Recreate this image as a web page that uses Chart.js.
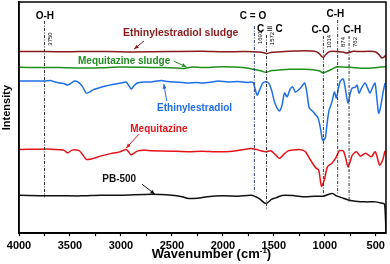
<!DOCTYPE html>
<html>
<head>
<meta charset="utf-8">
<script src="https://cdn.jsdelivr.net/npm/chart.js@4.4.1/dist/chart.umd.min.js"></script>
<style>
html, body { margin: 0; padding: 0; background: #fff; }
#wrap { width: 390px; height: 264px; }
</style>
</head>
<body>
<div id="wrap"><canvas id="ftir"></canvas></div>
<script>
// FTIR spectra, wavenumber (cm-1) and intensity (arbitrary, offset per trace)
const eeSludgeWn = [4000, 3750, 3500, 3300, 3000, 2900, 2500, 2200, 2000, 1800, 1700, 1620, 1572, 1520, 1400, 1300, 1200, 1100, 1060, 1030, 1014, 990, 960, 920, 880, 820, 790, 760, 720, 650, 560, 500, 470, 440, 420, 400];
const eeSludgeI = [181.5, 181.5, 181.3, 181.6, 181.3, 181.0, 181.5, 181.8, 181.3, 181.5, 181.4, 180.8, 179.5, 180.8, 181.5, 182, 182.3, 181.8, 180, 176.5, 175.7, 178.5, 181.2, 181.8, 181.5, 181, 180, 180.5, 181.8, 181.5, 181.8, 181, 178.5, 175, 176, 178];

const mqSludgeWn = [4000, 3800, 3600, 3400, 3200, 3000, 2800, 2600, 2450, 2380, 2300, 2200, 2000, 1800, 1700, 1620, 1580, 1520, 1450, 1350, 1200, 1100, 1050, 1020, 980, 930, 880, 820, 760, 700, 600, 520, 450, 400];
const mqSludgeI = [165.7, 165.5, 165.5, 165, 165.3, 166, 165.8, 165.5, 165, 164.5, 166, 165.5, 166.3, 165.5, 163.7, 162, 160.7, 162.5, 163, 163.7, 163.7, 163, 162, 160.3, 161.5, 164, 166.3, 166, 165.7, 165.3, 164.7, 165.3, 166, 166.3];

const eeWn = [4000, 3900, 3750, 3690, 3660, 3600, 3560, 3520, 3480, 3455, 3420, 3380, 3340, 3300, 3280, 3220, 3150, 3080, 3000, 2950, 2920, 2900, 2870, 2840, 2780, 2720, 2650, 2600, 2540, 2480, 2400, 2340, 2260, 2200, 2120, 2045, 1950, 1850, 1760, 1720, 1700, 1665, 1640, 1610, 1580, 1550, 1520, 1490, 1445, 1420, 1396, 1370, 1340, 1315, 1290, 1260, 1230, 1198, 1175, 1153, 1120, 1090, 1070, 1055, 1040, 1023, 1010, 994, 975, 958, 940, 926, 915, 905, 887, 870, 848, 819, 800, 773, 750, 731, 700, 683, 665, 640, 605, 580, 557, 530, 508, 490, 472, 455, 430, 410];
const eeI = [152, 152, 152, 152.5, 151.5, 150, 149.5, 148, 150.5, 152, 151, 147, 140, 141.5, 143, 145, 147, 148.5, 150, 151, 147, 144, 147.5, 150, 151, 151, 152, 152.5, 151.5, 151, 150.5, 150, 150.5, 150, 150.8, 152, 151, 151.5, 150.5, 151, 150, 138, 143, 150, 151.3, 150, 142, 130, 122, 128, 140, 136.3, 144, 146.3, 141, 143, 146, 150, 140, 125, 122, 118, 116, 111, 103, 93, 93, 96, 112, 123, 128, 133, 138, 141, 135, 143, 152, 154, 145, 130, 140, 145, 146, 148, 140, 145, 150, 145, 140, 146, 150, 135, 120, 125, 140, 150];

const mqWn = [4000, 3800, 3680, 3600, 3560, 3523, 3480, 3410, 3380, 3340, 3300, 3260, 3200, 3163, 3100, 3020, 2980, 2950, 2930, 2900, 2870, 2840, 2780, 2700, 2500, 2337, 2200, 2050, 1900, 1725, 1650, 1578, 1530, 1480, 1445, 1400, 1360, 1320, 1250, 1220, 1190, 1140, 1090, 1060, 1033, 1005, 975, 933, 895, 858, 820, 795, 773, 750, 731, 690, 650, 600, 545, 505, 462, 430, 410];
const mqI = [83.7, 84, 84, 83.5, 83, 80.3, 83, 82.5, 79, 73.7, 74, 75, 77, 78, 79.5, 81, 82.5, 83.7, 82, 78.3, 80, 82, 83, 82.5, 82, 81.5, 82, 81.3, 82, 84.7, 83, 81.3, 82.3, 78, 74.7, 79, 82.3, 83, 83.7, 83, 81.3, 73, 65.3, 63, 47, 53, 66.3, 69.7, 74.7, 82.3, 82.3, 75, 66.3, 72, 78, 81.3, 77, 80, 76.3, 81.3, 68, 74, 82.3];

const pbWn = [4000, 3800, 3600, 3400, 3200, 3000, 2700, 2500, 2400, 2337, 2250, 2150, 2000, 1850, 1720, 1650, 1578, 1520, 1480, 1420, 1300, 1200, 1100, 1020, 926, 880, 820, 760, 700, 600, 500, 440, 415, 405, 400];
const pbI = [38, 37.5, 37.5, 37.3, 38, 38, 39, 38, 36.5, 34.7, 35, 36.5, 37.3, 37, 38, 35, 29.7, 34, 35.3, 37.7, 37.5, 36.5, 37, 37, 39.7, 37, 35, 33, 32, 31.3, 31.3, 30, 29, 15, 0];

// marked bands: position, dotted line top / bottom
const peakPos = [3750, 1691, 1572, 1014, 874, 762];
const peakTop = [212, 207, 198, 197, 213, 197];
const peakBottom = [36, 41, 23, 40, 38, 31];
const bondNames = ['O-H', 'C = O', 'C \u2261 C', 'C-O', 'C-H', 'C-H'];

const xTicks = [4000, 3750, 3500, 3250, 3000, 2750, 2500, 2250, 2000, 1750, 1500, 1250, 1000, 750, 500];

const seriesNames = ['Ethinylestradiol sludge', 'Mequitazine sludge', 'Ethinylestradiol', 'Mequitazine', 'PB-500'];
const seriesColors = ['#8b1a1a', '#1f8f1f', '#1e6fe6', '#e5141b', '#111111'];

const FONT = '"Liberation Sans", Arial, sans-serif';

function pts(wn, vals) {
    return wn.map((w, i) => ({x: w, y: vals[i]}));
}

const spectra = [
    pts(eeSludgeWn, eeSludgeI),
    pts(mqSludgeWn, mqSludgeI),
    pts(eeWn, eeI),
    pts(mqWn, mqI),
    pts(pbWn, pbI)
];

const datasets = [];
// dotted marker lines
peakPos.forEach((p, i) => {
    datasets.push({
        data: [{x: p, y: peakTop[i]}, {x: p, y: peakBottom[i]}],
        borderColor: i === 1 ? '#2b3a80' : '#333',
        borderWidth: 1,
        borderDash: [3, 1.5, 1, 1.5],
        pointRadius: 0,
        tension: 0
    });
});
spectra.forEach((d, i) => {
    datasets.push({
        label: seriesNames[i],
        data: d,
        borderColor: seriesColors[i],
        borderWidth: 1.5,
        pointRadius: 0,
        tension: 0.25
    });
});

// where the text sits, in data units (wavenumber, intensity)
const bondAt = [[3747, 217], [1704, 217], [1539, 204], [1042, 203], [897, 219], [731, 203]];
const numAt = [194, 195.5, 194.5, 191.5, 191, 191];
const nameAt = [[2414, 200], [2969, 172], [2278, 125], [2628, 104], [3017, 54]];
const arrows = [
    [2774, 192, 2871, 184],
    [2482, 172, 2356, 166],
    [2550, 132, 2580, 149],
    [2823, 99, 2949, 85],
    [2794, 49, 2667, 39]
];

const notes = {
    id: 'notes',
    afterDatasetsDraw(chart) {
        const {ctx, chartArea: a, scales: {x, y}} = chart;
        ctx.save();
        ctx.strokeStyle = '#000';
        ctx.lineWidth = 1.5;
        ctx.strokeRect(a.left, a.top, a.width, a.height);

        ctx.textAlign = 'center';
        ctx.textBaseline = 'middle';
        ctx.fillStyle = '#000';
        ctx.font = 'bold 10px ' + FONT;
        bondNames.forEach((t, i) => {
            ctx.fillText(t, x.getPixelForValue(bondAt[i][0]), y.getPixelForValue(bondAt[i][1]));
        });

        ctx.font = '6px ' + FONT;
        peakPos.forEach((p, i) => {
            ctx.save();
            ctx.translate(x.getPixelForValue(p) + 6, y.getPixelForValue(numAt[i]));
            ctx.rotate(-Math.PI / 2);
            ctx.fillText(String(p), 0, 0);
            ctx.restore();
        });

        seriesNames.forEach((t, i) => {
            ctx.fillStyle = seriesColors[i];
            ctx.strokeStyle = seriesColors[i];
            ctx.font = 'bold ' + (i === 0 ? 10.5 : 10) + 'px ' + FONT;
            ctx.fillText(t, x.getPixelForValue(nameAt[i][0]), y.getPixelForValue(nameAt[i][1]));
            const [w1, v1, w2, v2] = arrows[i];
            const x1 = x.getPixelForValue(w1), y1 = y.getPixelForValue(v1);
            const x2 = x.getPixelForValue(w2), y2 = y.getPixelForValue(v2);
            ctx.lineWidth = 1;
            ctx.beginPath();
            ctx.moveTo(x1, y1);
            ctx.lineTo(x2, y2);
            ctx.stroke();
            const ang = Math.atan2(y2 - y1, x2 - x1);
            ctx.beginPath();
            ctx.moveTo(x2, y2);
            ctx.lineTo(x2 - 5 * Math.cos(ang - 0.4), y2 - 5 * Math.sin(ang - 0.4));
            ctx.lineTo(x2 - 5 * Math.cos(ang + 0.4), y2 - 5 * Math.sin(ang + 0.4));
            ctx.closePath();
            ctx.fill();
        });

        // axis titles (x one carries a real superscript)
        ctx.fillStyle = '#000';
        ctx.textBaseline = 'alphabetic';
        ctx.textAlign = 'left';
        const main = 'Wavenumber (cm', sup = '-1', tail = ')';
        ctx.font = 'bold 13px ' + FONT;
        const wMain = ctx.measureText(main).width, wTail = ctx.measureText(tail).width;
        ctx.font = 'bold 8px ' + FONT;
        const wSup = ctx.measureText(sup).width;
        let tx = (a.left + a.right) / 2 + 9 - (wMain + wSup + wTail) / 2;
        const ty = a.bottom + 25;
        ctx.font = 'bold 13px ' + FONT;
        ctx.fillText(main, tx, ty);
        tx += wMain;
        ctx.font = 'bold 8px ' + FONT;
        ctx.fillText(sup, tx, ty - 5);
        tx += wSup;
        ctx.font = 'bold 13px ' + FONT;
        ctx.fillText(tail, tx, ty);

        ctx.save();
        ctx.translate(a.left - 12, (a.top + a.bottom) / 2 - 10);
        ctx.rotate(-Math.PI / 2);
        ctx.textAlign = 'center';
        ctx.textBaseline = 'middle';
        ctx.font = 'bold 11px ' + FONT;
        ctx.fillText('Intensity', 0, 0);
        ctx.restore();
        ctx.restore();
    }
};

new Chart(document.getElementById('ftir').getContext('2d'), {
    type: 'line',
    data: {datasets: datasets},
    options: {
        responsive: true,
        maintainAspectRatio: false,
        animation: false,
        events: [],
        layout: {padding: {top: 2, right: 1, left: 11, bottom: 9}},
        plugins: {legend: {display: false}, tooltip: {enabled: false}},
        scales: {
            x: {
                type: 'linear',
                reverse: true,
                min: 400,
                max: 4000,
                afterBuildTicks: s => { s.ticks = xTicks.map(v => ({value: v})); },
                ticks: {
                    autoSkip: false,
                    maxRotation: 0,
                    padding: 5,
                    color: '#000',
                    font: {family: FONT, size: 11, weight: 'bold', lineHeight: 0.8},
                    callback: v => (v % 500 === 0 ? v : '')
                },
                grid: {drawOnChartArea: false, tickLength: 3, color: '#000', tickWidth: 1.2},
                border: {color: '#000', width: 1.5},
                title: {display: false}
            },
            y: {
                min: 0,
                max: 231,
                ticks: {display: false},
                grid: {display: false},
                border: {color: '#000', width: 1.5},
                title: {display: false}
            }
        }
    },
    plugins: [notes]
});
</script>
</body>
</html>
